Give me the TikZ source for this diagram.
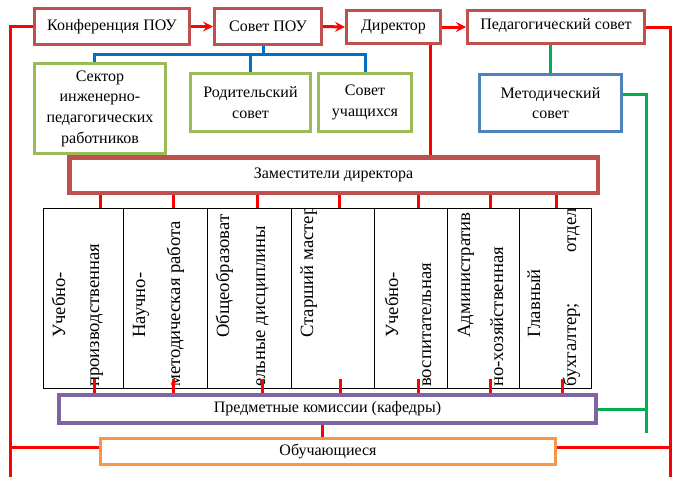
\documentclass[tikz,border=0pt]{standalone}
\usepackage{fontspec}
\setmainfont{Liberation Serif}
\usepackage[dvipsnames]{xcolor}
\definecolor{kirp}{HTML}{C0504D}
\definecolor{olivk}{HTML}{9BBB59}
\definecolor{sinr}{HTML}{4F81BD}
\definecolor{fiol}{HTML}{8064A2}
\definecolor{oranzh}{HTML}{F79646}
\definecolor{krasn}{HTML}{FF0000}
\definecolor{zelen}{HTML}{00B050}
\definecolor{sinl}{HTML}{0070C0}

\begin{document}
\begin{tikzpicture}[x=0.75pt,y=-0.75pt,
  ramka/.style={draw=kirp,line width=2.25pt,inner sep=1pt,align=center,font=\fontsize{12}{15.5}\selectfont},
  olbox/.style={ramka,draw=olivk},
  kolonka/.style={draw=black,line width=0.75pt,inner sep=0pt,anchor=north west,minimum height=135pt},
  kol/.style={rotate=90,anchor=mid west,inner sep=0pt,font=\fontsize{14}{16}\selectfont},
  kr/.style={krasn,line width=2.25pt},
  zl/.style={zelen,line width=2.25pt},
  sl/.style={sinl,line width=2.25pt}]
\useasboundingbox (0,0) rectangle (678,486);

%верхний ряд
\node[ramka,minimum width=116.25pt,minimum height=27pt] (konf) at (112,26.5) {Конференция ПОУ};
\node[ramka,minimum width=80.25pt,minimum height=27pt] (sovet) at (268,26.5) {Совет ПОУ};
\node[ramka,minimum width=70.5pt,minimum height=24.75pt] (dir) at (393.5,27) {Директор};
\node[ramka,minimum width=132.75pt,minimum height=24.75pt,text depth=5pt] (ped) at (556,27) {Педагогический совет};
\draw[kr,->,>=stealth] (konf.east) -- (sovet.west);
\draw[kr,->,>=stealth] (sovet.east) -- (dir.west);
\draw[kr,->,>=stealth] (dir.east) -- (ped.west);

%советы
\node[olbox,minimum width=98.25pt,minimum height=67.5pt] (sektor) at (100,108.5) {Сектор\\инженерно-\\педагогических\\работников};
\node[olbox,minimum width=90pt,minimum height=43.5pt] (rodit) at (250.5,102.5) {Родительский\\совет};
\node[olbox,minimum width=69.75pt,minimum height=43.5pt] (uch) at (365,102.5) {Совет\\учащихся};
\node[ramka,draw=sinr,minimum width=106.5pt,minimum height=42.75pt] (metod) at (550.5,103) {Методический\\совет};

\coordinate (razv) at (263,54);
\draw[sl] (sovet.south -| razv) -- (razv);
\draw[sl] (sektor.north -| 94,0) |- (razv) -| (uch.north);
\draw[sl] (rodit.north) -- (rodit.north |- razv);

%заместители
\node[ramka,line width=3pt,minimum width=396.75pt,minimum height=27pt] (zam) at (333.5,175) {Заместители директора};
\draw[kirp,line width=0.75pt] ([shift={(4.5,4)}]zam.north west) rectangle ([shift={(-3.5,-4)}]zam.south east);
\draw[kr] (dir.south -| 430,0) -- (zam.north -| 430,0);

%таблица
\node[kolonka,minimum width=60pt] (k1) at (43,208) {};
\node[kolonka,minimum width=63pt] (k2) at (123,208) {};
\node[kolonka,minimum width=63pt] (k3) at (207,208) {};
\node[kolonka,minimum width=62.25pt] (k4) at (291,208) {};
\node[kolonka,minimum width=54.75pt] (k5) at (374,208) {};
\node[kolonka,minimum width=54pt] (k6) at (447,208) {};
\node[kolonka,minimum width=54pt] (k7) at (519,208) {};

\begin{scope}
\clip (k1.north west) rectangle (k7.south east);
\node[kol] (t1a) at (62,338) {Учебно-};
\node[kol] (t1b) at (96,387) {производственная};
\node[kol] (t2a) at (142,338) {Научно-};
\node[kol] (t2b) at (177,387) {методическая работа};
\node[kol] (t3a) at (226,338) {Общеобразоват};
\node[kol] (t3b) at (262,387) {ельные дисциплины};
\node[kol] (t4a) at (310,338) {Старший мастер};
\node[kol] (t5a) at (395,338) {Учебно-};
\node[kol] (t5b) at (428,387) {воспитательная};
\node[kol] (t6a) at (467,338) {Административ};
\node[kol] (t6b) at (500,387) {но-хозяйственная};
\node[kol] (t7a) at (537,338) {Главный};
\node[kol] (t7b) at (573,387) {\makebox[134pt][s]{бухгалтер; отдел}};
\end{scope}

\draw[kr] (zam.south -| 100,0) -- (k1.north -| 100,0);
\draw[kr] (zam.south -| 173,0) -- (k2.north -| 173,0);
\draw[kr] (zam.south -| 257,0) -- (k3.north -| 257,0);
\draw[kr] (zam.south -| 339,0) -- (k4.north -| 339,0);
\draw[kr] (zam.south -| 418,0) -- (k5.north -| 418,0);
\draw[kr] (zam.south -| 490,0) -- (k6.north -| 490,0);
\draw[kr] (zam.south -| 556,0) -- (k7.north -| 556,0);

%комиссии и обучающиеся
\node[ramka,draw=fiol,line width=3pt,minimum width=402.75pt,minimum height=21pt] (predm) at (327.5,409) {Предметные комиссии (кафедры)};
\node[ramka,draw=oranzh,minimum width=341.25pt,minimum height=19.5pt] (obuch) at (328,451.5) {Обучающиеся};

\draw[kr] (k1.south -| 94,0) ++(0,-10) -- (predm.north -| 94,0);
\draw[kr] (k2.south -| 173,0) ++(0,-10) -- (predm.north -| 173,0);
\draw[kr] (k3.south -| 262,0) ++(0,-10) -- (predm.north -| 262,0);
\draw[kr] (k4.south -| 340,0) ++(0,-10) -- (predm.north -| 340,0);
\draw[kr] (k5.south -| 418,0) ++(0,-10) -- (predm.north -| 418,0);
\draw[kr] (k6.south -| 490,0) ++(0,-10) -- (predm.north -| 490,0);
\draw[kr] (k7.south -| 562,0) ++(0,-10) -- (predm.north -| 562,0);
\draw[kr] (predm.south -| 322,0) -- (obuch.north -| 322,0);

%боковые линии
\coordinate (levN) at (10,477);
\coordinate (pravN) at (670,477);
\coordinate (zelN) at (646,433);
\draw[kr] (konf.west) -| (levN);
\draw[kr] (ped.east) -| (pravN);
\draw[kr] (obuch.west |- 0,447) -- (levN |- 0,447);
\draw[kr] (obuch.east |- 0,447) -- (pravN |- 0,447);
\draw[zl] (ped.south -| metod.north) -- (metod.north);
\draw[zl] (metod.east |- 0,94) -| (zelN);
\draw[zl] (predm.east) -- (predm.east -| zelN);
\end{tikzpicture}
\end{document}
